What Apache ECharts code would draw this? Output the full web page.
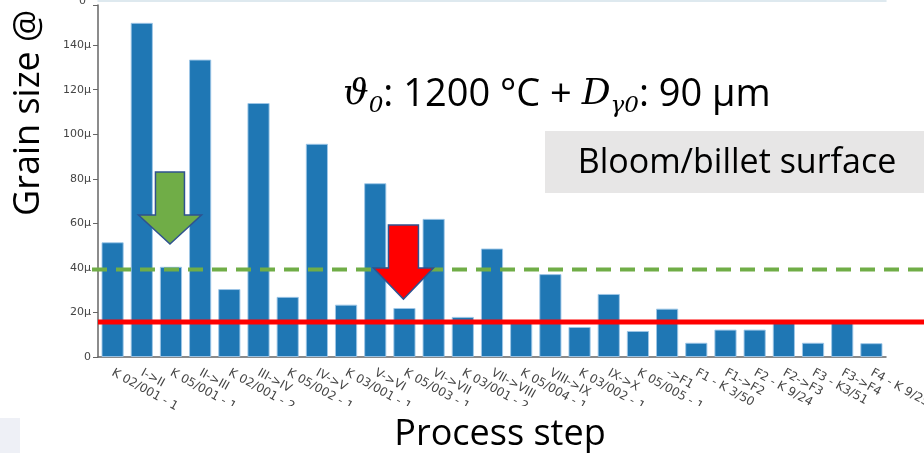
<!DOCTYPE html>
<html><head><meta charset="utf-8">
<script src="https://cdn.jsdelivr.net/npm/echarts@6/dist/echarts.min.js"></script>
<style>html,body{margin:0;padding:0;background:#fff;}#c{width:924px;height:453px;}</style>
</head><body><div id="c"></div>
<script>
const categories = ['K 02/001 - 1','I->II','K 05/001 - 1','II->III','K 02/001 - 2','III->IV','K 05/002 - 1','IV->V','K 03/001 - 1','V->VI','K 05/003 - 1','VI->VII','K 03/001 - 2','VII->VIII','K 05/004 - 1','VIII->IX','K 03/002 - 1','IX->X','K 05/005 - 1','->F1','F1 - K 3/50','F1->F2','F2 - K 9/24','F2->F3','F3 - K3/51','F3->F4','F4 - K 9/25'];
const grainSize = [51.5,150,40.5,133.5,30.5,114,27,95.7,23.5,78,22,62,18,48.7,15.5,37.2,13.5,28.3,11.7,21.7,6.4,12.3,12.3,15.5,6.4,15.5,6.2];
const yTickValues = [0,20,40,60,80,100,120,140];
const greenLimit = 39.3;
const redLimit = 15.7;
// arrows: category index, body top value, head top value, tip value
const greenArrow = [2, 83, 63.7, 50.7];
const redArrow = [10, 59.2, 39.9, 26.0];

const chart = echarts.init(document.getElementById('c'), null, {renderer:'canvas'});
const lblFont = 'DejaVu Sans';
chart.setOption({
  animation:false,
  grid:[
    {left:98, right:38, top:5, bottom:96, outerBoundsMode:'none', containLabel:false},
    {left:98, right:38, top:-30, height:31, outerBoundsMode:'none', containLabel:false}
  ],
  xAxis:[
    {type:'category', gridIndex:0, data:categories,
     axisLine:{lineStyle:{color:'#666', width:1.5}},
     axisTick:{alignWithLabel:true, length:5, lineStyle:{color:'#666'}},
     axisLabel:{interval:0, rotate:-29, color:'#444', fontFamily:lblFont, fontSize:12, margin:15, hideOverlap:false}},
    {type:'category', gridIndex:1, data:categories,
     axisLine:{lineStyle:{color:'#d3e2ea', width:1.5}},
     axisTick:{alignWithLabel:true, inside:true, length:4, lineStyle:{color:'#777'}},
     axisLabel:{show:false}}
  ],
  yAxis:[
    {type:'value', gridIndex:0, min:0, max:158, interval:20,
     splitLine:{show:false},
     axisLine:{show:true, lineStyle:{color:'#666', width:1.5}},
     axisTick:{show:true, length:5, lineStyle:{color:'#666'}},
     axisLabel:{color:'#444', fontFamily:lblFont, fontSize:11, margin:7,
       formatter:v => yTickValues.indexOf(v) < 0 ? '' : (v === 0 ? '0' : v + 'µ')}},
    {type:'value', gridIndex:1, min:0, max:10, interval:10,
     splitLine:{show:false}, axisLine:{show:false}, axisTick:{show:false},
     axisLabel:{color:'#444', fontFamily:lblFont, fontSize:11, margin:12,
       formatter:v => v === 0 ? '0' : ''}}
  ],
  series:[
    {type:'bar', xAxisIndex:0, yAxisIndex:0, data:grainSize, barCategoryGap:'24%',
     itemStyle:{color:'#1f77b4', borderColor:'rgba(160,200,232,0.9)', borderWidth:1}}
  ]
});

function px(ci, v){ return chart.convertToPixel({xAxisIndex:0, yAxisIndex:0}, [ci, v]); }
function arrowPts(a, bodyHalf, headHalf){
  const t = px(a[0], a[1]), h = px(a[0], a[2]), p = px(a[0], a[3]);
  const cx = t[0] - 1;
  return [[cx-bodyHalf, t[1]],[cx+bodyHalf, t[1]],[cx+bodyHalf, h[1]],[cx+headHalf, h[1]],[cx, p[1]],[cx-headHalf, h[1]],[cx-bodyHalf, h[1]]];
}
const gy = px(0, greenLimit)[1], ry = px(0, redLimit)[1];
chart.setOption({
  graphic:[
    {type:'rect', shape:{x:196, y:406, width:728, height:11}, style:{fill:'#fff'}, z:100},
    {type:'rect', shape:{x:0, y:418, width:20, height:35}, style:{fill:'#eef0f6'}, z:100},
    {type:'line', shape:{x1:92, y1:gy, x2:924, y2:gy}, style:{stroke:'#70ad47', lineWidth:4, lineDash:[15,9]}, z:110},
    {type:'line', shape:{x1:98, y1:ry, x2:924, y2:ry}, style:{stroke:'#ff0000', lineWidth:5}, z:111},
    {type:'polygon', shape:{points:arrowPts(greenArrow, 14.5, 31.5)}, style:{fill:'#70ad47', stroke:'#2f528f', lineWidth:1.5}, z:112},
    {type:'polygon', shape:{points:arrowPts(redArrow, 15, 30)}, style:{fill:'#ff0000', stroke:'#2f528f', lineWidth:1.5}, z:112},
    {type:'rect', shape:{x:545, y:131, width:379, height:62}, style:{fill:'#e7e6e6'}, z:100},
    {type:'text', x:737, y:163, style:{text:'Bloom/billet surface', fill:'#000', font:'34px "Open Sans"', textAlign:'center', textVerticalAlign:'middle'}, z:101},
    {type:'text', x:500, y:435, style:{text:'Process step', fill:'#000', font:'36px "Open Sans"', textAlign:'center', textVerticalAlign:'middle'}, z:101},
    {type:'text', x:29, y:216, rotation:Math.PI/2, style:{text:'Grain size @', fill:'#000', font:'36px "Open Sans"', textAlign:'left', textVerticalAlign:'middle'}, z:101},
    {type:'text', x:343, y:95, style:{
      text:'{m|ϑ}{s|0}{t|: 1200 °C + }{m|D}{s|γ0}{t|: 90 µm}',
      textVerticalAlign:'middle',
      rich:{
        t:{fontFamily:'Open Sans', fontSize:38, fill:'#000', lineHeight:46},
        m:{fontFamily:'DejaVu Serif', fontStyle:'italic', fontSize:36, fill:'#000', lineHeight:46},
        s:{fontFamily:'DejaVu Serif', fontStyle:'italic', fontSize:23, fill:'#000', verticalAlign:'bottom', lineHeight:46}
      }}, z:101}
  ]
});
</script></body></html>
